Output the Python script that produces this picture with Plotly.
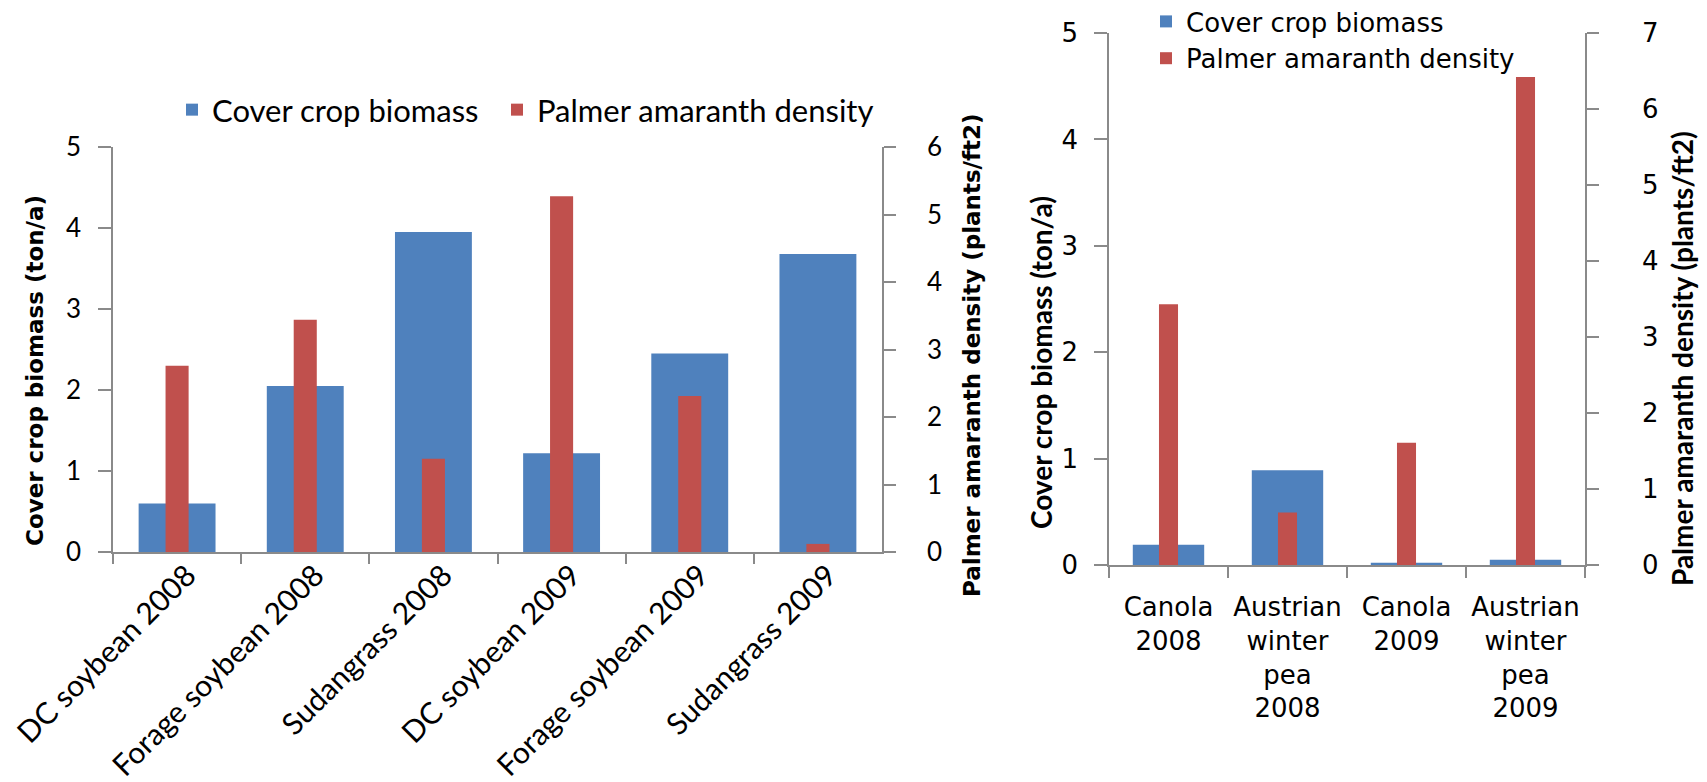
import plotly.graph_objects as go

# ---------------- data ----------------
left_categories = ["DC soybean 2008", "Forage soybean 2008", "Sudangrass 2008",
                   "DC soybean 2009", "Forage soybean 2009", "Sudangrass 2009"]
left_biomass = [0.60, 2.05, 3.95, 1.22, 2.45, 3.68]          # ton/a
left_density = [2.76, 3.44, 1.38, 5.27, 2.31, 0.12]          # plants/ft2

right_categories = ["Canola<br>2008", "Austrian<br>winter<br>pea<br>2008",
                    "Canola<br>2009", "Austrian<br>winter<br>pea<br>2009"]
right_biomass = [0.19, 0.89, 0.02, 0.05]                     # ton/a
right_density = [3.43, 0.69, 1.61, 6.42]                     # plants/ft2

series_names = ["Cover crop biomass", "Palmer amaranth density"]
biomass_title = "Cover crop biomass (ton/a)"
density_title = "Palmer amaranth density (plants/ft2)"

# ---------------- layout helpers ----------------
# the page body has an 8 px default margin, so the figure is drawn 8 px in
OFF = 8
W, H = 1707 - OFF, 782 - OFF
def px(x):
    return (x - OFF) / W
def py(y):
    return 1 - (y - OFF) / H

BLUE = "#4F81BD"
RED = "#C0504D"
AXIS = "#8a8a8a"
TXT = "#000000"

fig = go.Figure()
fig.add_trace(go.Bar(x=left_categories, y=left_biomass, name=series_names[0],
                     marker=dict(color=BLUE, line=dict(width=0)), showlegend=True,
                     width=0.6, offset=-0.3, xaxis="x", yaxis="y", legend="legend"))
fig.add_trace(go.Bar(x=left_categories, y=left_density, name=series_names[1],
                     marker=dict(color=RED, line=dict(width=0)), showlegend=True,
                     width=0.18, offset=-0.09, xaxis="x", yaxis="y2", legend="legend3"))
fig.add_trace(go.Bar(x=right_categories, y=right_biomass, name=series_names[0],
                     marker=dict(color=BLUE, line=dict(width=0)), showlegend=True,
                     width=0.6, offset=-0.3, xaxis="x2", yaxis="y3", legend="legend2"))
fig.add_trace(go.Bar(x=right_categories, y=right_density, name=series_names[1],
                     marker=dict(color=RED, line=dict(width=0)), showlegend=True,
                     width=0.16, offset=-0.08, xaxis="x2", yaxis="y4", legend="legend2"))

LATO = "Lato"
DEJ = "DejaVu Sans"

common_axis = dict(showline=True, linecolor=AXIS, linewidth=1.5, ticks="outside",
                   tickcolor=AXIS, tickwidth=1.5, showgrid=False, zeroline=False,
                   automargin=False)

left_legend_font = dict(family=LATO, size=31, color=TXT)

fig.update_layout(
    width=W, height=H,
    margin=dict(l=0, r=0, t=0, b=0, autoexpand=False),
    paper_bgcolor="white", plot_bgcolor="white",
    barmode="overlay",
    showlegend=True,
    font=dict(family=LATO, color=TXT),
    xaxis=dict(domain=[px(113), px(882)], anchor="y", type="category",
               range=[-0.5, 5.5], tickson="boundaries", ticklen=10,
               tickangle=-45, ticklabelshift=10, ticklabelstandoff=-8,
               tickfont=dict(family=LATO, size=30, color=TXT),
               **common_axis),
    yaxis=dict(domain=[py(552), py(147)], anchor="x", range=[0, 5], dtick=1,
               ticklen=13, ticklabelstandoff=12,
               tickfont=dict(family=LATO, size=26, color=TXT), **common_axis),
    yaxis2=dict(overlaying="y", side="right", anchor="x", range=[0, 6], dtick=1,
                ticklen=12, ticklabelstandoff=26,
                tickfont=dict(family=LATO, size=26, color=TXT), **common_axis),
    xaxis2=dict(domain=[px(1109), px(1585)], anchor="y3", type="category",
                range=[-0.5, 3.5], tickson="boundaries", ticklen=11,
                ticklabelstandoff=18, tickangle=0,
                tickfont=dict(family=DEJ, size=26, color=TXT), **common_axis),
    yaxis3=dict(domain=[py(565), py(33)], anchor="x2", range=[0, 5], dtick=1,
                ticklen=13, ticklabelstandoff=11,
                tickfont=dict(family=DEJ, size=26, color=TXT), **common_axis),
    yaxis4=dict(overlaying="y3", side="right", anchor="x2", range=[0, 7], dtick=1,
                ticklen=12, ticklabelstandoff=38,
                tickfont=dict(family=DEJ, size=26, color=TXT), **common_axis),
    legend=dict(orientation="h", x=px(172), xanchor="left", y=py(110), yanchor="middle",
                font=left_legend_font, bgcolor="rgba(0,0,0,0)", visible=True),
    legend3=dict(orientation="h", x=px(497), xanchor="left", y=py(110), yanchor="middle",
                 font=left_legend_font, bgcolor="rgba(0,0,0,0)", visible=True),
    legend2=dict(orientation="v", x=px(1146), xanchor="left", y=py(40), yanchor="middle",
                 font=dict(family=DEJ, size=26, color=TXT), bgcolor="rgba(0,0,0,0)",
                 tracegroupgap=0, visible=True),
    annotations=[
        dict(text=biomass_title, xref="paper", yref="paper", x=px(35), y=py(371),
             textangle=-90, showarrow=False, xanchor="center", yanchor="middle",
             font=dict(family=DEJ, size=23, color=TXT, weight="bold")),
        dict(text=density_title, xref="paper", yref="paper", x=px(972), y=py(355),
             textangle=-90, showarrow=False, xanchor="center", yanchor="middle",
             font=dict(family=DEJ, size=23, color=TXT, weight="bold")),
        dict(text=biomass_title, xref="paper", yref="paper", x=px(1041), y=py(363),
             textangle=-90, showarrow=False, xanchor="center", yanchor="middle",
             font=dict(family=LATO, size=28, color=TXT, weight="bold")),
        dict(text=density_title, xref="paper", yref="paper", x=px(1682), y=py(359),
             textangle=-90, showarrow=False, xanchor="center", yanchor="middle",
             font=dict(family=LATO, size=28, color=TXT, weight="bold")),
    ],
)

fig.write_html("out.html")
